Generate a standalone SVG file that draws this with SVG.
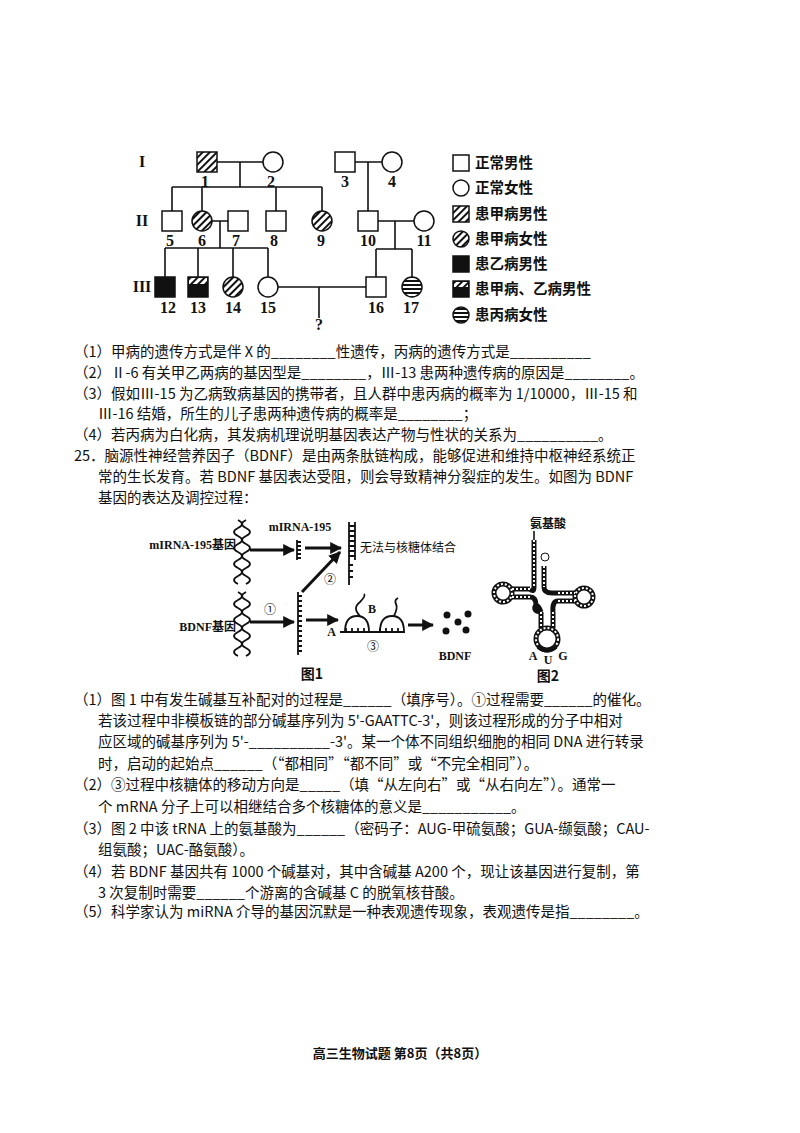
<svg xmlns="http://www.w3.org/2000/svg" width="800" height="1133" viewBox="0 0 800 1133">
<defs>
<pattern id="hatch" width="5" height="5" patternUnits="userSpaceOnUse" patternTransform="rotate(45)"><rect width="5" height="5" fill="#fff"/><rect width="2" height="5" fill="#111"/></pattern>
<pattern id="horiz" width="4" height="4" patternUnits="userSpaceOnUse"><rect width="4" height="4" fill="#fff"/><rect width="4" height="2" fill="#111"/></pattern>
<marker id="ar" viewBox="0 0 10 10" refX="9" refY="5" markerWidth="4" markerHeight="4" orient="auto"><path d="M0,0L10,5L0,10z" fill="#111"/></marker>
</defs>
<style>
text{font-family:"Noto Sans CJK SC","Liberation Serif",serif;fill:#111}
.t text{font-size:14.5px}
.n text{font-family:"Liberation Serif",serif;font-size:16px;font-weight:bold}
.b text{font-family:"Liberation Serif","Noto Sans CJK SC",serif;font-size:12px;font-weight:bold}
.l{stroke:#111;stroke-width:1.6;fill:none}
.s{stroke:#111;stroke-width:1.5}
.w{fill:#fff}
.a{stroke:#111;stroke-width:3;fill:none}
.tr{fill:none;stroke:#111;stroke-width:5}
.td{fill:none;stroke:#fff;stroke-width:2;stroke-dasharray:2 2}
</style>
<rect width="800" height="1133" fill="#fff"/>
<g id="pedigree">
<g id="connectors" class="l">
<path d="M217,162H263M240,162V187M172,187H322M172,187V211M202,187V211M276,187V211M322,187V211"/>
<path d="M355,162H382M368,162V211"/>
<path d="M212,221H228M220,221V248M165,248H268M165,248V277M198,248V277M233,248V277M268,248V277"/>
<path d="M378,221H414M395,221V249M376,249H412M376,249V277M412,249V277"/>
<path d="M278,287H366M319,287V318"/>
</g>
<g class="s">
<rect x="197" y="152" width="20" height="20" fill="url(#hatch)"/>
<circle cx="273" cy="162" r="10" class="w"/>
<rect x="335" y="152" width="20" height="20" class="w"/>
<circle cx="392" cy="162" r="10" class="w"/>
<rect x="162" y="211" width="20" height="20" class="w"/>
<circle cx="202" cy="221" r="10" fill="url(#hatch)"/>
<rect x="228" y="211" width="20" height="20" class="w"/>
<rect x="266" y="211" width="20" height="20" class="w"/>
<circle cx="322" cy="221" r="10" fill="url(#hatch)"/>
<rect x="358" y="211" width="20" height="20" class="w"/>
<circle cx="424" cy="221" r="10" class="w"/>
<rect x="155" y="277" width="20" height="20" fill="#111"/>
<rect x="188" y="277" width="20" height="20" fill="#111"/>
<rect x="189" y="278" width="18" height="6" fill="url(#hatch)" stroke="none"/>
<circle cx="233" cy="287" r="10" fill="url(#hatch)"/>
<circle cx="268" cy="287" r="10" class="w"/>
<rect x="366" y="277" width="20" height="20" class="w"/>
<circle cx="412" cy="287" r="10" fill="url(#horiz)"/>
</g>
<g class="n" text-anchor="middle">
<text x="142" y="167">I</text><text x="142" y="226">II</text><text x="142" y="292">III</text>
<text x="205" y="187">1</text><text x="271" y="187">2</text><text x="345" y="187">3</text><text x="392" y="187">4</text>
<text x="170" y="246">5</text><text x="202" y="246">6</text><text x="236" y="246">7</text><text x="274" y="246">8</text><text x="321" y="246">9</text><text x="368" y="246">10</text><text x="424" y="246">11</text>
<text x="168" y="313">12</text><text x="198" y="313">13</text><text x="233" y="313">14</text><text x="268" y="313">15</text><text x="376" y="313">16</text><text x="411" y="313">17</text>
<text x="319" y="330">?</text>
</g>
</g>
<g id="legend">
<g class="s">
<rect x="453" y="155" width="16" height="16" class="w"/>
<circle cx="461" cy="188" r="8" class="w"/>
<rect x="453" y="206" width="16" height="16" fill="url(#hatch)"/>
<circle cx="461" cy="239" r="8" fill="url(#hatch)"/>
<rect x="453" y="256" width="16" height="16" fill="#111"/>
<rect x="453" y="281" width="16" height="16" fill="#111"/><rect x="454" y="282" width="14" height="5" fill="url(#hatch)" stroke="none"/>
<circle cx="461" cy="315" r="8" fill="url(#horiz)"/>
</g>
<g class="t" font-weight="bold">
<text x="475" y="168">正常男性</text><text x="475" y="193">正常女性</text><text x="475" y="219">患甲病男性</text><text x="475" y="244">患甲病女性</text><text x="475" y="269">患乙病男性</text><text x="475" y="294">患甲病、乙病男性</text><text x="475" y="320">患丙病女性</text>
</g>
</g>
<g id="text" class="t">
<text x="74" y="357">（1）甲病的遗传方式是伴 X 的________性遗传，丙病的遗传方式是__________</text>
<text x="74" y="378">（2）Ⅱ-6 有关甲乙两病的基因型是________，Ⅲ-13 患两种遗传病的原因是________。</text>
<text x="74" y="399">（3）假如Ⅲ-15 为乙病致病基因的携带者，且人群中患丙病的概率为 1/10000，Ⅲ-15 和</text>
<text x="98" y="419">Ⅲ-16 结婚，所生的儿子患两种遗传病的概率是________；</text>
<text x="74" y="440">（4）若丙病为白化病，其发病机理说明基因表达产物与性状的关系为__________。</text>
<text x="74" y="461">25．脑源性神经营养因子（BDNF）是由两条肽链构成，能够促进和维持中枢神经系统正</text>
<text x="98" y="482">常的生长发育。若 BDNF 基因表达受阻，则会导致精神分裂症的发生。如图为 BDNF</text>
<text x="98" y="503">基因的表达及调控过程：</text>
<text x="74" y="705">（1）图 1 中有发生碱基互补配对的过程是______（填序号）。①过程需要______的催化。</text>
<text x="98" y="726">若该过程中非模板链的部分碱基序列为 5'-GAATTC-3'，则该过程形成的分子中相对</text>
<text x="98" y="747">应区域的碱基序列为 5'-__________-3'。某一个体不同组织细胞的相同 DNA 进行转录</text>
<text x="98" y="769">时，启动的起始点______（“都相同”“都不同”或“不完全相同”）。</text>
<text x="74" y="790">（2）③过程中核糖体的移动方向是_____（填“从左向右”或“从右向左”）。通常一</text>
<text x="98" y="812">个 mRNA 分子上可以相继结合多个核糖体的意义是___________。</text>
<text x="74" y="834">（3）图 2 中该 tRNA 上的氨基酸为______（密码子：AUG-甲硫氨酸；GUA-缬氨酸；CAU-</text>
<text x="98" y="855">组氨酸；UAC-酪氨酸）。</text>
<text x="74" y="877">（4）若 BDNF 基因共有 1000 个碱基对，其中含碱基 A200 个，现让该基因进行复制，第</text>
<text x="98" y="898">3 次复制时需要______个游离的含碱基 C 的脱氧核苷酸。</text>
<text x="74" y="917">（5）科学家认为 miRNA 介导的基因沉默是一种表观遗传现象，表观遗传是指________。</text>
<text x="400" y="1058" text-anchor="middle" style="font-size:13px;font-weight:bold">高三生物试题 第8页（共8页）</text>
</g>
<g id="fig1">
<g stroke="#111" stroke-width="1.8" fill="none">
<path d="M238,520 q8,4 0,8 q-8,4 0,8 q8,4 0,8 q-8,4 0,8 q8,4 0,8 q-8,4 0,8 q8,4 0,8 q-8,4 0,8"/>
<path d="M246,520 q-8,4 0,8 q8,4 0,8 q-8,4 0,8 q8,4 0,8 q-8,4 0,8 q8,4 0,8 q-8,4 0,8 q8,4 0,8"/>
<path d="M238,592 q8,4 0,8 q-8,4 0,8 q8,4 0,8 q-8,4 0,8 q8,4 0,8 q-8,4 0,8 q8,4 0,8 q-8,4 0,8"/>
<path d="M246,592 q-8,4 0,8 q8,4 0,8 q-8,4 0,8 q8,4 0,8 q-8,4 0,8 q8,4 0,8 q-8,4 0,8 q8,4 0,8"/>
<path d="M297,540V560M297,542h4M297,546h4M297,550h4M297,554h4M297,558h4"/>
<path d="M349,522V585M355,522V560M349,526h6M349,531h6M349,536h6M349,541h6M349,546h6M349,551h6M349,556h6M349,565h4M349,571h4M349,577h4"/>
<path d="M298,592V655"/>
<path d="M298,596h4M298,601h4M298,606h4M298,611h4M298,616h4M298,621h4M298,626h4M298,631h4M298,636h4M298,641h4M298,646h4M298,651h4"/>
<path d="M340,632H405M346,632v-4M352,632v-4M358,632v-4M364,632v-4M380,632v-4M386,632v-4M392,632v-4M398,632v-4"/>
<path d="M345,632 q0,-16 12,-16 q12,0 12,16M380,632 q0,-16 12,-16 q12,0 12,16"/>
<path d="M360,616 q-8,-8 0,-14 q6,-6 4,-8M394,616 q4,-8 2,-12 q-2,-4 2,-6"/>
</g>
<g class="a" marker-end="url(#ar)">
<path d="M250,550H294"/><path d="M305,548H341"/><path d="M302,592L340,552"/>
<path d="M250,622H294"/><path d="M306,620H338"/><path d="M408,625H433"/>
</g>
<g fill="#111"><circle cx="447" cy="615" r="3.5"/><circle cx="458" cy="622" r="3.5"/><circle cx="468" cy="614" r="3.5"/><circle cx="446" cy="631" r="3.5"/><circle cx="466" cy="630" r="3.5"/></g>
<g class="b">
<text x="236" y="549" text-anchor="end">mIRNA-195基因</text>
<text x="300" y="531" text-anchor="middle">mIRNA-195</text>
<text x="360" y="552" style="font-weight:normal">无法与核糖体结合</text>
<text x="236" y="631" text-anchor="end">BDNF基因</text>
<text x="270" y="614" style="font-weight:normal" text-anchor="middle">①</text>
<text x="330" y="584" style="font-weight:normal" text-anchor="middle">②</text>
<text x="373" y="651" style="font-weight:normal" text-anchor="middle">③</text>
<text x="336" y="636" text-anchor="end">A</text>
<text x="372" y="613" text-anchor="middle">B</text>
<text x="455" y="660" text-anchor="middle">BDNF</text>
</g>
<text x="312" y="679" style="font-size:14px;font-weight:bold" text-anchor="middle">图1</text>
</g>
<g id="fig2">
<g id="trna">
<path class="tr" d="M534,540V587M544,566V587M512,589H530M512,597H530M558,593H575M558,601H575M541,612V628M553,612V628"/>
<path class="tr" d="M530,589 q4,4 4,-2M530,597 q6,0 6,8 q-4,6 5,7M544,587 q0,6 8,6 h6M558,601 q-6,0 -5,11 M541,612 q-2,-6 -5,-7"/>
<circle class="tr" cx="503" cy="593" r="9"/>
<circle class="tr" cx="584" cy="597" r="9"/>
<circle class="tr" cx="547" cy="639" r="11"/>
<path class="td" d="M534,540V587M544,566V587M512,589H530M512,597H530M558,593H575M558,601H575M541,612V628M553,612V628"/>
<circle class="td" cx="503" cy="593" r="9"/>
<circle class="td" cx="584" cy="597" r="9"/>
<circle class="td" cx="547" cy="639" r="11"/>
<path d="M538,647 q9,7 18,0" stroke="#111" stroke-width="4" fill="none"/>
</g>
<path d="M534,531V540" class="l"/>
<circle cx="545" cy="557" r="4" class="w" stroke="#111"/>
<g class="b"><text x="548" y="528" text-anchor="middle">氨基酸</text><text x="533" y="660" text-anchor="middle">A</text><text x="548" y="664" text-anchor="middle">U</text><text x="563" y="660" text-anchor="middle">G</text></g>
<text x="548" y="681" style="font-size:14px;font-weight:bold" text-anchor="middle">图2</text>
</g>
</svg>
